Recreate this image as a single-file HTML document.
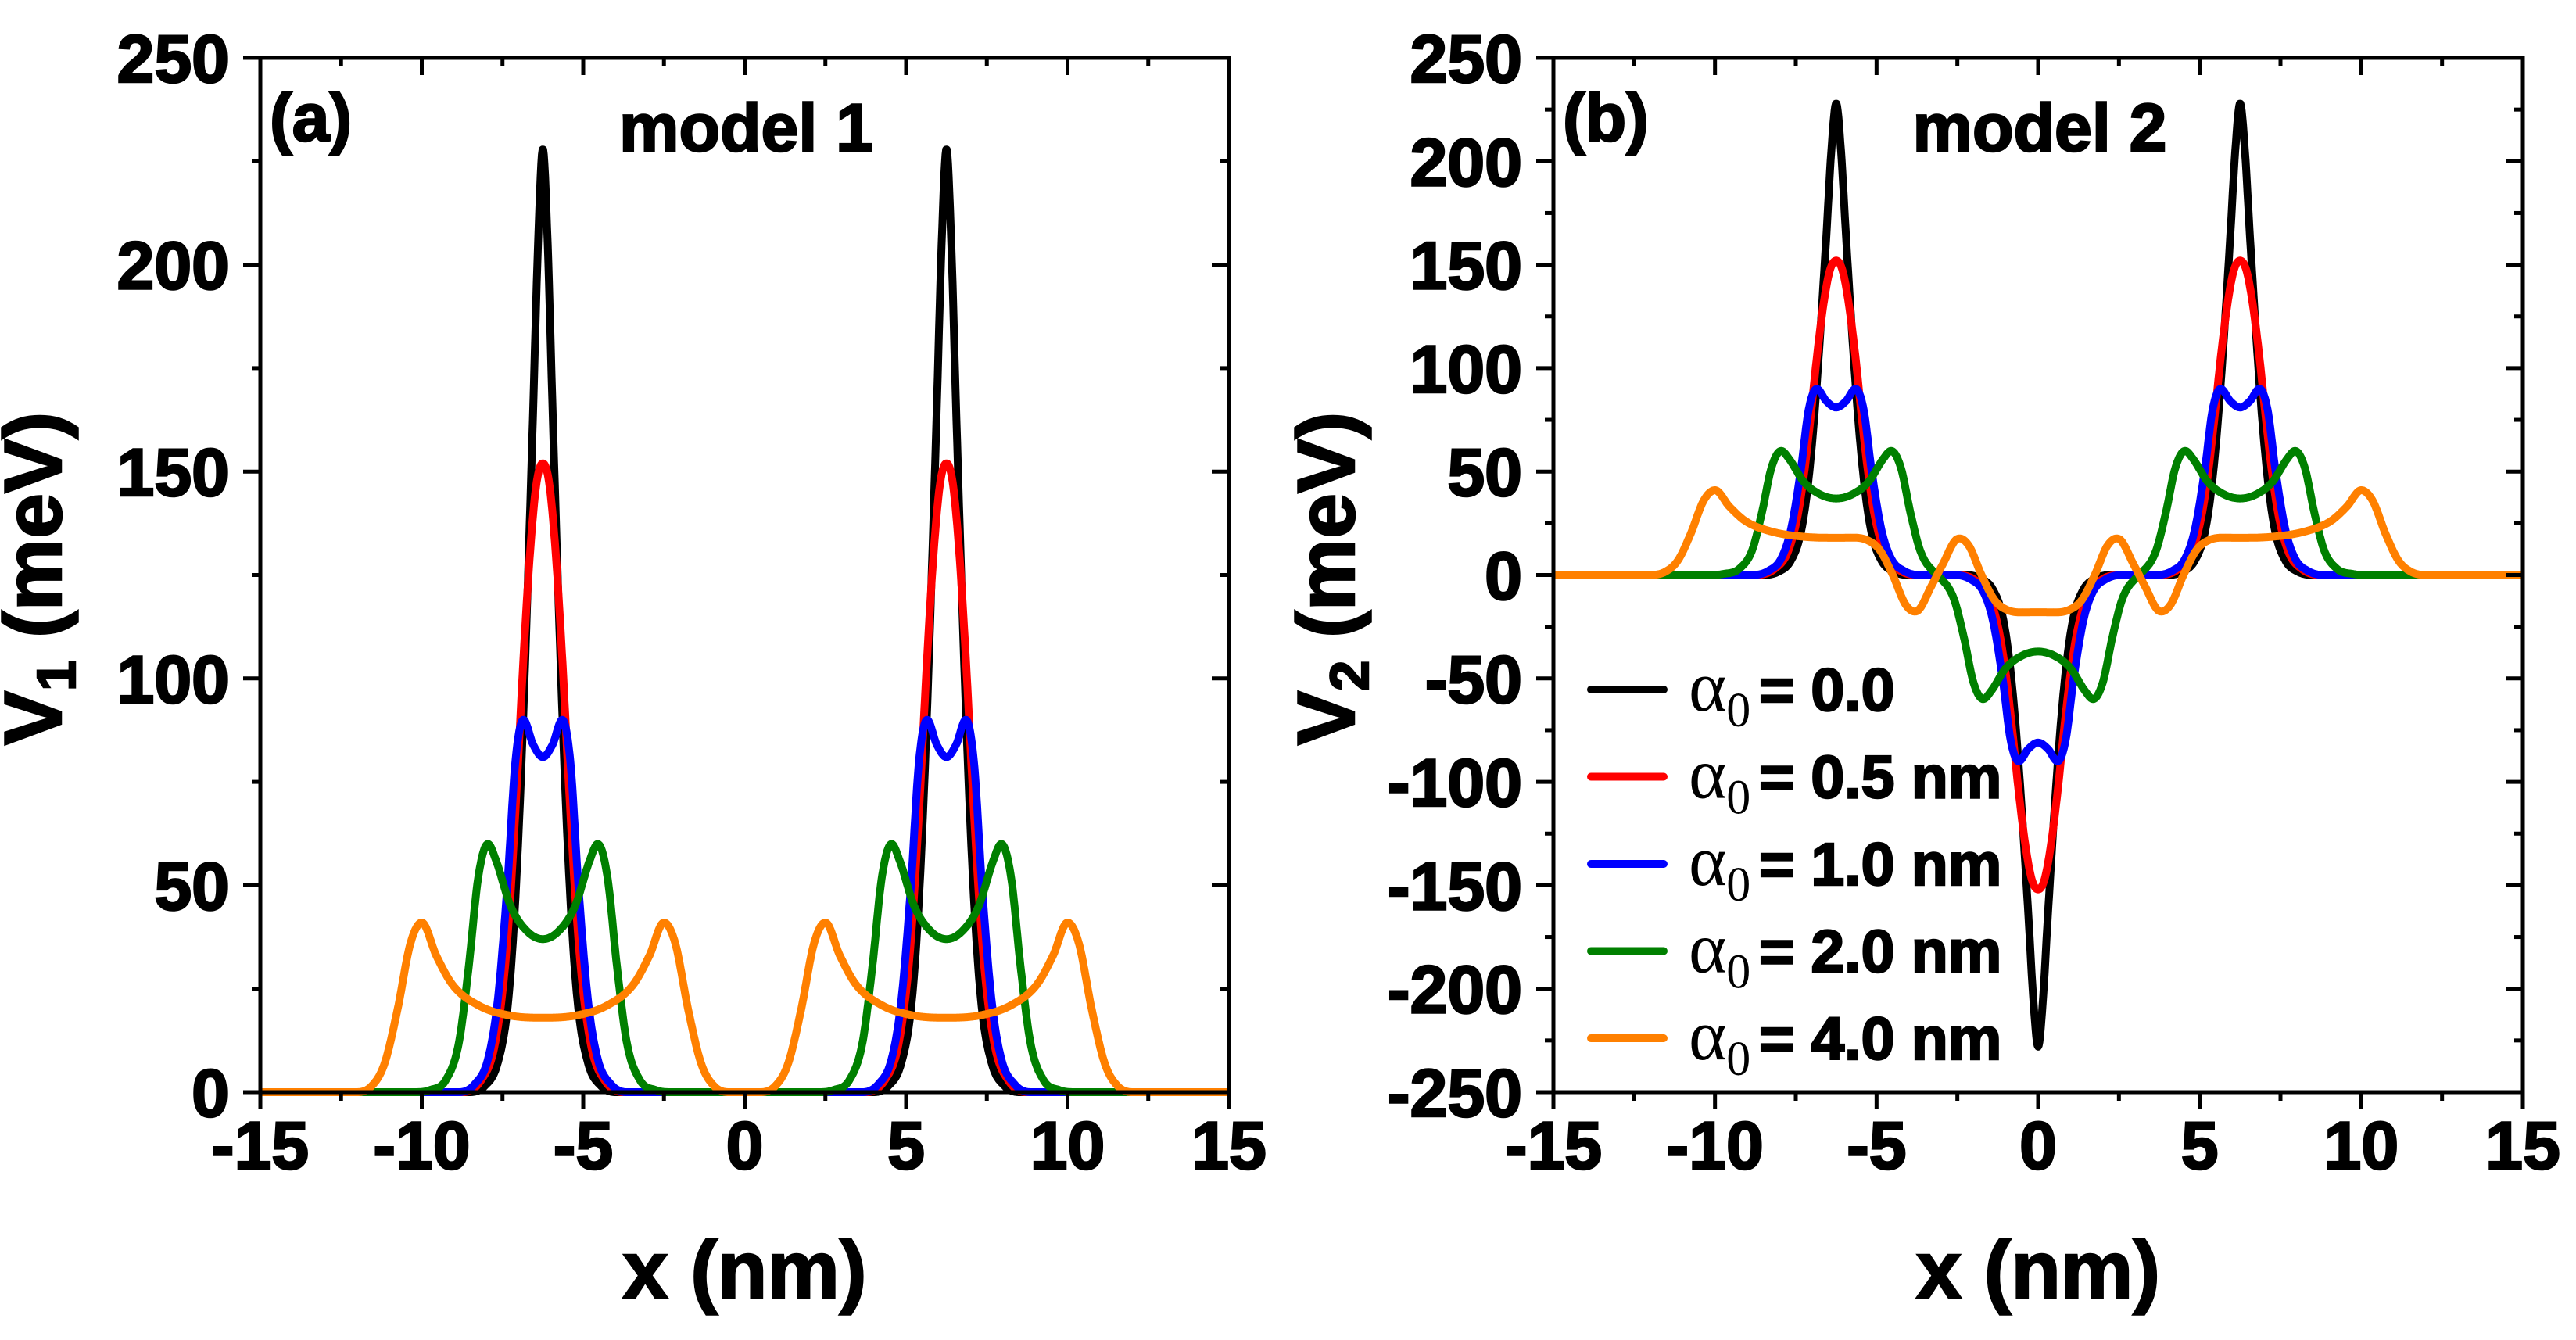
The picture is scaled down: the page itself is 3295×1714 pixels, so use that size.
<!DOCTYPE html>
<html><head><meta charset="utf-8"><style>
html,body{margin:0;padding:0;background:#fff}
svg{display:block}
text{font-family:"Liberation Sans",Arial,sans-serif;font-weight:bold;fill:#000}
.hv{stroke:#000;stroke-width:2.5px}
</style></head><body>
<svg id="fig" width="3295" height="1714" viewBox="0 0 3295 1714" xmlns="http://www.w3.org/2000/svg"></svg>
<script>
// Peak profiles: offset from peak center (nm) and potential (meV), symmetric in offset
const seriesLabels = ["0.0", "0.5 nm", "1.0 nm", "2.0 nm", "4.0 nm"];
const seriesColors = ["#000000", "#ff0000", "#0000ff", "#008000", "#ff8000"];
const offBlack = [0, 0.15, 0.3, 0.5, 0.7, 0.9, 1.1, 1.4, 1.8, 2.3];
const valBlack = [228, 205, 165, 115, 72, 40, 20, 7, 1.5, 0];
const offRed = [0, 0.2, 0.4, 0.6, 0.8, 1.0, 1.2, 1.5, 1.9, 2.5];
const valRed = [152, 147, 130, 105, 75, 48, 28, 11, 3, 0];
const offBlue = [0, 0.3, 0.6, 0.85, 1.1, 1.4, 1.7, 2.1, 2.6];
const valBlue = [81, 84, 90, 80, 50, 22, 8, 2, 0];
const offGreen = [0, 0.5, 1.0, 1.45, 1.7, 2.0, 2.3, 2.6, 3.0, 3.5, 4.0];
const valGreen = [37, 39, 45, 56, 60, 52, 30, 12, 3, 0.5, 0];
const offOrange = [0, 1.0, 2.0, 2.8, 3.3, 3.75, 4.1, 4.5, 4.9, 5.3, 5.8];
const valOrange = [18, 18.5, 21, 26, 33, 41, 36, 20, 7, 1.5, 0];
const peakCenters = [-6.25, 6.25];
const xTicks = [-15, -10, -5, 0, 5, 10, 15];
const yTicks1 = [0, 50, 100, 150, 200, 250];
const yTicks2 = [-250, -200, -150, -100, -50, 0, 50, 100, 150, 200, 250];

const offs = [offBlack, offRed, offBlue, offGreen, offOrange];
const vals = [valBlack, valRed, valBlue, valGreen, valOrange];
const NS = "http://www.w3.org/2000/svg";
const svg = document.getElementById("fig");
function mk(tag, attrs, parent) {
  const e = document.createElementNS(NS, tag);
  for (const k in attrs) e.setAttribute(k, attrs[k]);
  (parent || svg).appendChild(e);
  return e;
}
function profile(i, d) {
  d = Math.abs(d);
  const o = offs[i], v = vals[i], n = o.length;
  if (d >= o[n - 1]) return v[n - 1];
  let k = 0;
  while (o[k + 1] < d) k++;
  const slope = j => {
    if (j === 0 || j === n - 1) return 0;
    const s1 = (v[j] - v[j - 1]) / (o[j] - o[j - 1]), s2 = (v[j + 1] - v[j]) / (o[j + 1] - o[j]);
    if (s1 * s2 <= 0) return 0;
    return (s1 + s2) / 2;
  };
  const h = o[k + 1] - o[k], t = (d - o[k]) / h;
  const m0 = slope(k) * h, m1 = slope(k + 1) * h;
  const t2 = t * t, t3 = t2 * t;
  return (2 * t3 - 3 * t2 + 1) * v[k] + (t3 - 2 * t2 + t) * m0 + (-2 * t3 + 3 * t2) * v[k + 1] + (t3 - t2) * m1;
}
function model1(i, x) { return peakCenters.reduce((s, c) => s + profile(i, x - c), 0); }
function model2(i, x) { return model1(i, x) - profile(i, x); }

const panels = [
  {id: "a", L: 333, R: 1572, ymin: 0, ymax: 250, yTicks: yTicks1, minorStep: 25, fn: model1, tag: "(a)", title: "model 1", ylab: "1"},
  {id: "b", L: 1987, R: 3227, ymin: -250, ymax: 250, yTicks: yTicks2, minorStep: 25, fn: model2, tag: "(b)", title: "model 2", ylab: "2"}
];
const T = 74, B = 1397;
panels.forEach(p => {
  const g = mk("g", {});
  
  
  const xs = x => p.L + (x + 15) / 30 * (p.R - p.L);
  const ys = y => B - (y - p.ymin) / (p.ymax - p.ymin) * (B - T);
  const sg = mk("g", {}, g);
  
  
  for (let i = 0; i < 5; i++) {
    let d = "";
    for (let x = -15; x <= 15.0001; x += 0.02) {
      d += (d ? "L" : "M") + xs(x).toFixed(1) + "," + ys(p.fn(i, x)).toFixed(1);
    }
    const path = mk("path", {d: d, fill: "none", stroke: seriesColors[i], "stroke-width": 10, "stroke-linejoin": "round"}, sg);
    
    
  }
  const fr = mk("rect", {x: p.L, y: T, width: p.R - p.L, height: B - T, fill: "none", stroke: "#000", "stroke-width": 5}, g);
  
  
  for (let x = -15; x <= 15; x += 2.5) {
    const major = x % 5 === 0;
    const X = xs(x);
    const len = major ? 22 : 11;
    mk("line", {x1: X, x2: X, y1: B, y2: B + len, stroke: "#000", "stroke-width": 5}, g);
    mk("line", {x1: X, x2: X, y1: T, y2: T + len, stroke: "#000", "stroke-width": 5}, g);
  }
  xTicks.forEach(x => {
    const t = mk("text", {x: xs(x), y: 1495, "font-size": 86, "text-anchor": "middle", class: "hv"}, g);
    t.textContent = String(x);
    
    
  });
  for (let y = p.ymin; y <= p.ymax; y += p.minorStep) {
    const major = y % 50 === 0;
    const Y = ys(y);
    const len = major ? 22 : 11;
    mk("line", {x1: p.L - len, x2: p.L, y1: Y, y2: Y, stroke: "#000", "stroke-width": 5}, g);
    mk("line", {x1: p.R - len, x2: p.R, y1: Y, y2: Y, stroke: "#000", "stroke-width": 5}, g);
  }
  p.yTicks.forEach(y => {
    const t = mk("text", {x: p.L - 40, y: ys(y) + 31, "font-size": 86, "text-anchor": "end", class: "hv"}, g);
    t.textContent = String(y);
    
    
  });
  const xt = mk("text", {x: (p.L + p.R) / 2, y: 1660, "font-size": 104, "text-anchor": "middle", class: "hv"}, g);
  xt.textContent = "x (nm)";
  
  
  const yt = mk("text", {x: 0, y: 0, "font-size": 104, "text-anchor": "middle", class: "hv", transform: "translate(" + (p.L - 255) + ",740) rotate(-90)"}, g);
  yt.innerHTML = 'V<tspan font-size="70" dy="18">' + p.ylab + '</tspan><tspan dy="-18"> (meV)</tspan>';
  
  
  const tg = mk("text", {x: p.L + 12, y: 180, "font-size": 86, class: "hv"}, g);
  tg.textContent = p.tag;
  
  
  const ti = mk("text", {x: (p.L + p.R) / 2 + 2, y: 193, "font-size": 86, "text-anchor": "middle", class: "hv"}, g);
  ti.textContent = p.title;
  
  
});
const lg = mk("g", {});


for (let i = 0; i < 5; i++) {
  const y = 882 + i * 111.5;
  const eg = mk("g", {}, lg);
  
  
  mk("line", {x1: 2035, x2: 2128, y1: y, y2: y, stroke: seriesColors[i], "stroke-width": 10, "stroke-linecap": "round"}, eg);
  const a = mk("text", {x: 2160, y: y + 27, "font-size": 92, style: "font-family:'Liberation Serif',serif;font-weight:normal"}, eg);
  a.innerHTML = 'α<tspan font-size="62" dy="20">0</tspan>';
  const t = mk("text", {x: 2250, y: y + 27, "font-size": 77, class: "hv"}, eg);
  t.textContent = "= " + seriesLabels[i];
}
</script>
</body></html>
